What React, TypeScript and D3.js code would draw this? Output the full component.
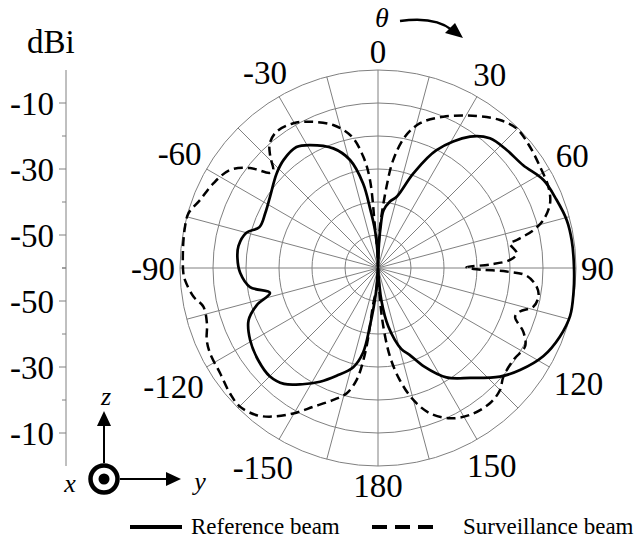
import React from 'react';
import * as d3 from 'd3';

// ---- data (degrees, dBi) ----
const refAngles = [-180, -175, -172, -170, -166, -159, -153, -147, -141, -135, -127.5, -119.5, -112, -107, -103, -98.5, -92, -86, -81, -75, -71, -64, -56.6, -47, -41, -34, -29, -20.5, -14.5, -10, -7.5, -4.5, -2, 0, 2, 3.5, 5.5, 10, 14.7, 20.5, 26.4, 35, 40.8, 47.5, 54.7, 62, 69, 75.7, 82, 90, 97, 104, 110.7, 118, 125.7, 131.7, 140, 148, 155, 160, 164, 170, 174, 180];
const refGain = [-60, -52, -42, -34, -29, -25, -21.3, -18, -14.8, -13.6, -14.2, -15.5, -17.7, -21.6, -26.4, -20.8, -18.2, -17.3, -17.2, -18.7, -22, -22, -20.8, -18, -16.5, -15.8, -17.4, -21.3, -26.2, -34, -42, -48.5, -55, -60, -54, -48, -42.4, -39.6, -37.7, -29.4, -20.1, -11.4, -8.1, -7.1, -6.1, -3.2, -2.1, -1, -0.7, -0.6, -0.3, 0, -1.1, -3.2, -7, -10.5, -16.5, -20.9, -27.1, -32, -34.5, -42, -50, -60];

const survAngles = [-180, -176, -172.4, -172, -171, -169.2, -166, -161.3, -155, -149.8, -144.8, -140.5, -135, -130.3, -123.7, -117, -112.8, -108, -102.5, -98.8, -93.6, -91.6, -84, -78, -74, -69, -62.8, -56.5, -52, -48.6, -46.9, -44, -41, -36.6, -30.3, -25, -17.4, -11.3, -7.5, -5.2, -4.2, -2, 0, 1.5, 2.8, 6, 8, 11.6, 16.2, 23.3, 33, 39.5, 44.8, 51.4, 58, 64.5, 69.4, 73.8, 76.3, 78.6, 79.5, 84, 86.5, 88.2, 89.5, 90.6, 91.6, 93, 96.7, 100, 104, 107, 109.6, 113.7, 118, 124, 131, 135, 140.4, 148, 154.4, 160.3, 165, 169, 172.3, 174.8, 176.4, 180];
const survGain = [-60, -54, -49, -39, -31.8, -25.5, -20.9, -17.8, -13.6, -9, -4.9, -2.2, -0.7, -1.2, -2.5, -2.9, -3.7, -5.5, -5.8, -3.4, -1.4, -1, -0.6, -0.2, -0.2, -2.3, -3.9, -6.2, -10.8, -16.4, -16.5, -13, -10, -8.5, -9.2, -11.1, -14.6, -19.4, -26, -33.2, -47.5, -55, -60, -55, -47.5, -35.2, -27, -19.4, -14.3, -10.1, -5.1, -1.9, -0.4, -1.1, -2.1, -2.8, -4.3, -7.8, -11.5, -17.1, -19.3, -17.7, -19.9, -26, -33.2, -31, -21, -14.9, -11.6, -10.6, -11.5, -15, -15.9, -11.9, -9.5, -10.4, -9.7, -7.7, -6.8, -7.5, -9.5, -13.2, -18.6, -25.4, -32.9, -42.2, -50.3, -60];

const angleLabels = [0, 30, 60, 90, 120, 150, 180, -150, -120, -90, -60, -30];
const ringValues = [-50, -40, -30, -20, -10, 0];
const axisTicks = [-10, -20, -30, -40, -50, -60];
const axisLabels = [-10, -30, -50];
const legendItems = ['Reference beam', 'Surveillance beam'];

const W = 640, H = 543;
const cx = 378, cy = 268, R = 198;
const FONT = '"Liberation Serif", "Times New Roman", serif';

function textWidth(s: string, size: number) {
  let w = 0;
  for (const ch of s) w += ch === '-' ? 0.333 : 0.5;
  return w * size;
}

export default function App() {
  const r = d3.scaleLinear().domain([-60, 0]).range([0, R]).clamp(true);
  const rad = (d: number) => (d * Math.PI) / 180;
  const line = d3
    .lineRadial<[number, number]>()
    .angle((d) => rad(d[0]))
    .radius((d) => r(d[1]))
    .curve(d3.curveCatmullRom.alpha(0.5));

  const refData: [number, number][] = refAngles.map((a, i) => [a, refGain[i]]);
  const survData: [number, number][] = survAngles.map((a, i) => [a, survGain[i]]);

  const spokes = d3.range(0, 360, 15);
  const yTop = d3.scaleLinear().domain([0, -60]).range([cy - R, cy]);
  const yBot = d3.scaleLinear().domain([-60, 0]).range([cy, cy + R]);
  const axisX = 66;
  const labelSize = 33;

  return (
    <svg width={W} height={H} style={{ position: 'absolute', left: 0, top: 0, background: '#fff' }} fontFamily={FONT}>
      {/* polar grid */}
      <g transform={`translate(${cx},${cy})`} stroke="#808080" strokeWidth={1} fill="none">
        {ringValues.map((v) => (
          <circle key={v} r={r(v)} />
        ))}
        {spokes.map((a) => (
          <line key={a} x1={0} y1={0} x2={R * Math.sin(rad(a))} y2={-R * Math.cos(rad(a))} />
        ))}
      </g>
      {/* curves */}
      <g transform={`translate(${cx},${cy})`} fill="none" stroke="#000">
        <path d={line(survData) || ''} strokeWidth={2.5} strokeDasharray="9,5" />
        <path d={line(refData) || ''} strokeWidth={2.7} />
      </g>
      {/* angle labels */}
      <g fontSize={labelSize} fill="#000">
        {angleLabels.map((a) => {
          const s = String(a);
          const w = textWidth(s, labelSize);
          const h = 28;
          const sn = Math.sin(rad(a)), cs = Math.cos(rad(a));
          const rr = R + 5 + (Math.abs(sn) * w) / 2 + (Math.abs(cs) * h) / 2;
          return (
            <text key={a} x={cx + rr * sn} y={cy - rr * cs} textAnchor="middle" dy="0.35em">
              {s}
            </text>
          );
        })}
      </g>
      {/* theta indicator */}
      <text x={382} y={27} fontSize={28} fontStyle="italic" textAnchor="middle">θ</text>
      <path d="M400,21 Q435,16 452,30" fill="none" stroke="#000" strokeWidth={2.5} />
      <polygon points="463,38 445,33 455,23" fill="#000" />
      {/* dBi axis */}
      <text x={27} y={53} fontSize={labelSize}>dBi</text>
      <g stroke="#808080" strokeWidth={1}>
        <line x1={axisX} x2={axisX} y1={yTop(0)} y2={yBot(0)} />
        {axisTicks.map((t) => {
          const len = axisLabels.includes(t) ? 7 : 4;
          return (
            <g key={t}>
              <line x1={axisX - len} x2={axisX} y1={yTop(t)} y2={yTop(t)} />
              <line x1={axisX - len} x2={axisX} y1={yBot(t)} y2={yBot(t)} />
            </g>
          );
        })}
      </g>
      <g fontSize={labelSize} textAnchor="end">
        {axisLabels.map((t) => (
          <g key={t}>
            <text x={54} y={yTop(t)} dy="0.35em">{t}</text>
            <text x={54} y={yBot(t)} dy="0.35em">{t}</text>
          </g>
        ))}
      </g>
      {/* coordinate icon */}
      <g>
        <line x1={104} y1={463} x2={104} y2={424} stroke="#000" strokeWidth={2} />
        <polygon points="104,411 97,426 111,426" fill="#000" />
        <line x1={120} y1={479} x2={168} y2={479} stroke="#000" strokeWidth={2} />
        <polygon points="181,479 166,472 166,486" fill="#000" />
        <circle cx={104} cy={479} r={13.5} fill="none" stroke="#000" strokeWidth={4.5} />
        <circle cx={104} cy={479} r={5.5} fill="#000" />
        <text x={106} y={405} fontSize={26} fontStyle="italic" textAnchor="middle">z</text>
        <text x={70} y={492} fontSize={26} fontStyle="italic" textAnchor="middle">x</text>
        <text x={200} y={490} fontSize={26} fontStyle="italic" textAnchor="middle">y</text>
      </g>
      {/* legend */}
      <g fontSize={23}>
        <line x1={130} x2={182} y1={527} y2={527} stroke="#000" strokeWidth={4} />
        <text x={191} y={534}>{legendItems[0]}</text>
        <line x1={372} x2={440} y1={527} y2={527} stroke="#000" strokeWidth={4} strokeDasharray="15,8" />
        <text x={463} y={534}>{legendItems[1]}</text>
      </g>
    </svg>
  );
}
